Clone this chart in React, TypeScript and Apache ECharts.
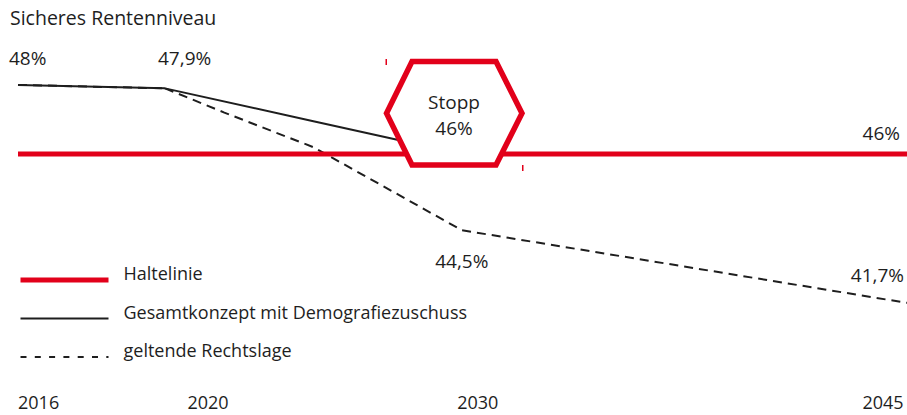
import React, { useEffect, useRef } from "react";
import * as echarts from "echarts";

// ---- data ----
const halteYears = [2016, 2020, 2045];
const halteValues = [46, 46, 46];
const gesamtYears = [2016, 2020, 2025, 2030];
const gesamtValues = [48, 47.9, 46.95, 46];
const rechtYears = [2016, 2020, 2022, 2025, 2030, 2045];
const rechtValues = [48, 47.9, 47.2, 46.2, 43.8, 41.7];
const tickYears = [2016, 2020, 2030, 2045];
const labelYears = [2016, 2020, 2030, 2045, 2045];
const labelValues = [48, 47.9, 43.8, 46, 41.7];
const labelTexts = ["48%", "47,9%", "44,5%", "46%", "41,7%"];
const seriesNames = ["Haltelinie", "Gesamtkonzept mit Demografiezuschuss", "geltende Rechtslage"];
const title = "Sicheres Rentenniveau";
const stopTexts = ["Stopp", "46%"];

const RED = "#e2001a";
const INK = "#1e1e1e";
const FONT = "'Open Sans', 'Noto Sans', sans-serif";
const SPLIT = 2020;

// label placement styles (align, offset) for each value label
const labelStyles = [
  { align: "left", offset: [-9, -27] },
  { align: "left", offset: [-7, -30] },
  { align: "center", offset: [0, 31] },
  { align: "right", offset: [-7, -21] },
  { align: "right", offset: [-3, -28] },
];

function pairs(ys: number[], vs: number[]) {
  return ys.map((y, i) => [y, vs[i]]);
}
function partA(p: number[][]) {
  return p.filter((d) => d[0] <= SPLIT);
}
function partB(p: number[][]) {
  return p.filter((d) => d[0] >= SPLIT);
}

export default function App() {
  const ref = useRef<HTMLDivElement>(null);
  useEffect(() => {
    if (!ref.current) return;
    const chart = echarts.init(ref.current, null, { renderer: "svg" });
    const halte = pairs(halteYears, halteValues);
    const gesamt = pairs(gesamtYears, gesamtValues);
    const recht = pairs(rechtYears, rechtValues);

    const lineSeries: any[] = [];
    [0, 1].forEach((g) => {
      const pick = g === 0 ? partA : partB;
      lineSeries.push({
        name: seriesNames[2],
        type: "line",
        xAxisIndex: g,
        yAxisIndex: g,
        data: pick(recht),
        symbol: "none",
        lineStyle: { color: INK, width: 2, type: [9, 6] },
        itemStyle: { color: INK },
        z: 2,
        silent: true,
      });
      lineSeries.push({
        name: seriesNames[1],
        type: "line",
        xAxisIndex: g,
        yAxisIndex: g,
        data: pick(gesamt),
        symbol: "none",
        lineStyle: { color: INK, width: 2 },
        itemStyle: { color: INK },
        z: 3,
        silent: true,
      });
      lineSeries.push({
        name: seriesNames[0],
        type: "line",
        xAxisIndex: g,
        yAxisIndex: g,
        data: pick(halte),
        symbol: "none",
        lineStyle: { color: RED, width: 5 },
        itemStyle: { color: RED },
        z: 4,
        silent: true,
      });
    });

    const labelData = labelYears.map((y, i) => ({
      value: [y, labelValues[i]],
      label: {
        show: true,
        position: "inside",
        formatter: labelTexts[i],
        align: labelStyles[i].align,
        verticalAlign: "middle",
        offset: labelStyles[i].offset,
      },
    }));
    const labelCommon = {
      type: "scatter",
      symbolSize: 0,
      silent: true,
      z: 10,
      itemStyle: { color: "transparent", opacity: 1 },
      label: { color: INK, fontSize: 19, fontFamily: FONT, opacity: 1, textBorderWidth: 0 },
    };
    const labelSeries = [
      { ...labelCommon, xAxisIndex: 0, yAxisIndex: 0, data: labelData.filter((d) => d.value[0] < SPLIT) },
      { ...labelCommon, xAxisIndex: 1, yAxisIndex: 1, data: labelData.filter((d) => d.value[0] >= SPLIT) },
    ];

    const axisBase = {
      type: "value",
      axisLine: { show: false },
      axisTick: { show: false },
      splitLine: { show: false },
    };
    const labelBase = {
      show: true,
      margin: 49,
      color: INK,
      fontSize: 18,
      fontFamily: FONT,
    };

    const hexPts = [
      [412, 61.5],
      [496, 61.5],
      [522, 113.25],
      [496, 165],
      [412, 165],
      [386.5, 113.25],
    ];

    chart.setOption({
      animation: false,
      textStyle: { fontFamily: FONT },
      title: {
        text: title,
        left: 8,
        top: 7,
        padding: [0, 2, 0, 2],
        textStyle: { color: INK, fontSize: 19.5, fontWeight: "normal", fontFamily: FONT },
      },
      grid: [
        { left: 18, width: 147, top: 33, height: 311.4 },
        { left: 165, width: 742, top: 33, height: 311.4 },
      ],
      xAxis: [
        {
          ...axisBase,
          gridIndex: 0,
          min: 2016,
          max: 2020,
          axisLabel: {
            ...labelBase,
            customValues: tickYears.filter((y) => y < SPLIT),
            formatter: (v: number) => String(v),
            align: "left",
          },
        },
        {
          ...axisBase,
          gridIndex: 1,
          min: 2020,
          max: 2045,
          axisLabel: {
            ...labelBase,
            customValues: tickYears.filter((y) => y >= SPLIT),
            formatter: (v: number) => (v === 2045 ? `{r|${v}}` : `{y${v}|${v}}`),
            rich: {
              y2020: { padding: [0, 0, 0, 86] },
              y2030: { padding: [0, 0, 0, 32] },
              r: { padding: [0, 48, 0, 0] },
            },
          },
        },
      ],
      yAxis: [
        { type: "value", gridIndex: 0, min: 40.5, max: 49.5, show: false },
        { type: "value", gridIndex: 1, min: 40.5, max: 49.5, show: false },
      ],
      legend: {
        orient: "vertical",
        left: 18,
        top: 263,
        padding: 0,
        itemWidth: 88,
        itemHeight: 14,
        itemGap: 4.5,
        selectedMode: false,
        data: [
          { name: seriesNames[0], itemStyle: { opacity: 0 }, lineStyle: { width: 5, color: RED } },
          { name: seriesNames[1], itemStyle: { opacity: 0 }, lineStyle: { width: 2, color: INK } },
          { name: seriesNames[2], itemStyle: { opacity: 0 }, lineStyle: { width: 2, color: INK, type: [6, 8.3] } },
        ],
        formatter: (n: string) => `${n}\n{s| }`,
        textStyle: {
          color: INK,
          fontSize: 18,
          lineHeight: 20,
          fontFamily: FONT,
          padding: [0, 0, 0, 10],
          rich: { s: { fontSize: 1, lineHeight: 14 } },
        },
      },
      graphic: [
        {
          type: "polygon",
          shape: { points: hexPts },
          style: { fill: "#fff", stroke: RED, lineWidth: 5.5 },
          z: 100,
        },
        {
          type: "text",
          x: 454,
          y: 102,
          style: { text: stopTexts[0], fill: INK, fontSize: 19, fontFamily: FONT, align: "center", verticalAlign: "middle" },
          z: 101,
        },
        {
          type: "text",
          x: 454,
          y: 128,
          style: { text: stopTexts[1], fill: INK, fontSize: 19, fontFamily: FONT, align: "center", verticalAlign: "middle" },
          z: 101,
        },
        { type: "rect", shape: { x: 385.5, y: 59, width: 1.5, height: 6 }, style: { fill: RED }, z: 101 },
        { type: "rect", shape: { x: 522, y: 165, width: 1.5, height: 6 }, style: { fill: RED }, z: 101 },
      ],
      series: [...lineSeries, ...labelSeries],
    });
    return () => chart.dispose();
  }, []);
  return (
    <div
      ref={ref}
      style={{ position: "fixed", left: 0, top: 0, width: 907, height: 415, background: "#fff" }}
    />
  );
}
